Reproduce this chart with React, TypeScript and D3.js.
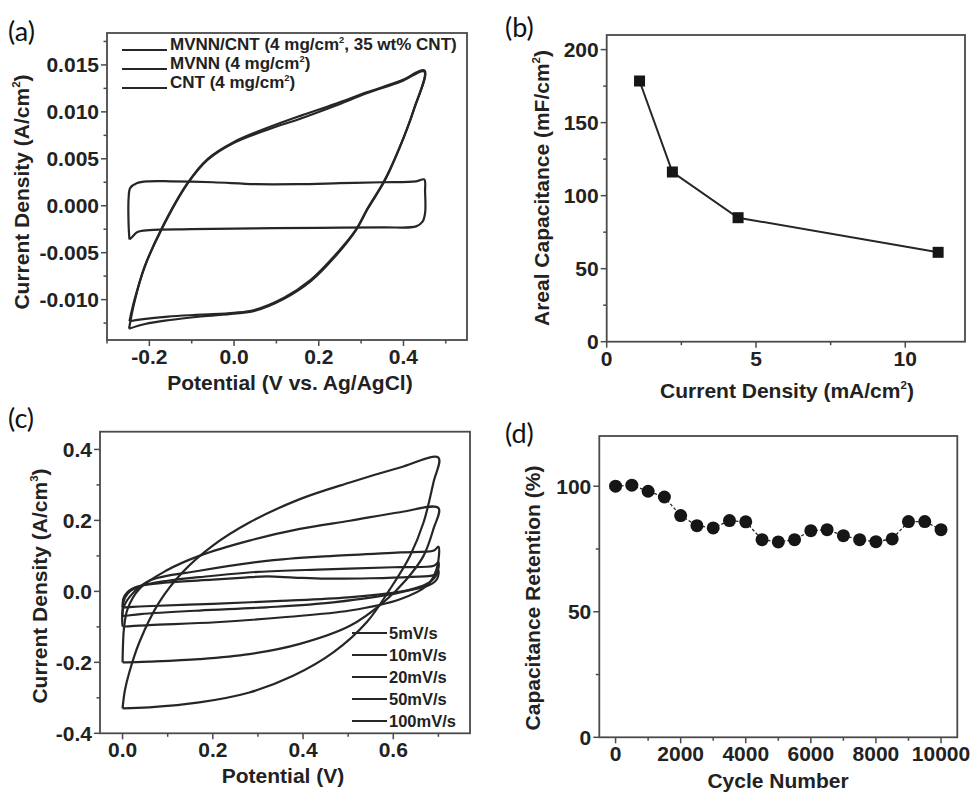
import React from 'react';
import * as d3 from 'd3';

const W = 971, H = 794;
const INK = '#262626', FRAME = '#4a4a4a', TXT = '#222';
const FONT = '"Liberation Sans", Arial, sans-serif';

type Pt = [number, number];

// ---- (a) CV loops, potential (V) vs current density (A/cm2)
const mvnnCntLoop: Pt[] = [
  [-0.247, -0.0123], [-0.235, -0.0100], [-0.211, -0.0065], [-0.172, -0.0026], [-0.109, 0.0024],
  [-0.062, 0.0049], [0.0, 0.0067], [0.079, 0.0081], [0.158, 0.0093], [0.236, 0.0106],
  [0.315, 0.0120], [0.393, 0.0132], [0.449, 0.0143],
  [0.424, 0.0102], [0.389, 0.0060], [0.354, 0.0026], [0.315, -0.0003], [0.287, -0.0026],
  [0.236, -0.0054], [0.181, -0.0079], [0.118, -0.0098], [0.048, -0.0111], [0.0, -0.0114],
  [-0.078, -0.0116], [-0.156, -0.0118], [-0.219, -0.0121], [-0.247, -0.0123],
];
const mvnnLoop: Pt[] = [
  [-0.248, -0.0131], [-0.236, -0.0104], [-0.212, -0.0066], [-0.173, -0.0026], [-0.110, 0.0024],
  [-0.062, 0.0050], [0.0, 0.0068], [0.079, 0.0083], [0.158, 0.0096], [0.236, 0.0108],
  [0.315, 0.0121], [0.393, 0.0133], [0.450, 0.0144],
  [0.425, 0.0103], [0.390, 0.0061], [0.355, 0.0026], [0.316, -0.0003], [0.288, -0.0026],
  [0.237, -0.0055], [0.182, -0.0080], [0.118, -0.0099], [0.048, -0.0112], [0.0, -0.0115],
  [-0.078, -0.0118], [-0.156, -0.0122], [-0.210, -0.0126], [-0.248, -0.0131],
];
const cntLoop: Pt[] = [
  [-0.247, -0.0036], [-0.249, -0.0020], [-0.249, 0.0008], [-0.245, 0.0019], [-0.230, 0.0024],
  [-0.200, 0.0026], [-0.150, 0.0026], [-0.050, 0.0025], [0.050, 0.0023], [0.150, 0.0023],
  [0.250, 0.0024], [0.350, 0.0025], [0.430, 0.0026], [0.449, 0.0028], [0.451, 0.0015],
  [0.451, -0.0008], [0.445, -0.0017], [0.430, -0.0022], [0.350, -0.0023], [0.200, -0.00235],
  [0.050, -0.0024], [-0.100, -0.0025], [-0.200, -0.0026], [-0.228, -0.0028], [-0.240, -0.0033],
  [-0.247, -0.0036],
];
const legendA = ['MVNN/CNT (4 mg/cm², 35 wt% CNT)', 'MVNN (4 mg/cm²)', 'CNT (4 mg/cm²)'];
const aXTicks = [-0.2, 0.0, 0.2, 0.4];
const aXLabels = ['-0.2', '0.0', '0.2', '0.4'];
const aXMinor = [-0.3, -0.1, 0.1, 0.3, 0.5];
const aYTicks = [-0.01, -0.005, 0, 0.005, 0.01, 0.015];
const aYLabels = ['-0.010', '-0.005', '0.000', '0.005', '0.010', '0.015'];
const aYMinor = [-0.0125, -0.0075, -0.0025, 0.0025, 0.0075, 0.0125, 0.0175];

// ---- (b) areal capacitance vs current density
const currentDensity = [1.1, 2.2, 4.4, 11.1];
const arealCapacitance = [178.5, 116.2, 84.9, 61.2];
const bXTicks = [0, 5, 10];
const bXMinor = [2.5, 7.5];
const bYTicks = [0, 50, 100, 150, 200];
const bYMinor = [25, 75, 125, 175];

// ---- (c) CV at several scan rates, A/cm3
const loop5: Pt[] = [
  [0, -0.045], [0.002, -0.02], [0.01, -0.003], [0.035, 0.014], [0.1, 0.025], [0.2, 0.033],
  [0.27, 0.039], [0.32, 0.042], [0.38, 0.039], [0.45, 0.036], [0.55, 0.037], [0.64, 0.041],
  [0.69, 0.046], [0.7, 0.058], [0.697, 0.035], [0.68, 0.018], [0.62, 0.0], [0.5, -0.017],
  [0.35, -0.027], [0.2, -0.035], [0.05, -0.042], [0.005, -0.045], [0, -0.045],
];
const loop10: Pt[] = [
  [0, -0.069], [0.002, -0.03], [0.012, -0.005], [0.04, 0.015], [0.1, 0.03], [0.17, 0.04],
  [0.3, 0.055], [0.45, 0.062], [0.6, 0.068], [0.69, 0.072], [0.7, 0.082], [0.697, 0.05],
  [0.68, 0.025], [0.615, -0.003], [0.467, -0.031], [0.319, -0.045], [0.17, -0.054],
  [0.04, -0.064], [0.004, -0.069], [0, -0.069],
];
const loop20: Pt[] = [
  [0, -0.099], [0.001, -0.05], [0.018, -0.012], [0.059, 0.03], [0.17, 0.058], [0.319, 0.086],
  [0.467, 0.1], [0.615, 0.11], [0.69, 0.115], [0.7, 0.126], [0.696, 0.063], [0.674, 0.016],
  [0.615, -0.022], [0.504, -0.054], [0.356, -0.073], [0.207, -0.087], [0.059, -0.095],
  [0.005, -0.099], [0, -0.099],
];
const loop50: Pt[] = [
  [0, -0.2], [0.001, -0.15], [0.003, -0.106], [0.011, -0.05], [0.037, 0.007], [0.096, 0.058],
  [0.17, 0.1], [0.281, 0.143], [0.393, 0.176], [0.504, 0.199], [0.615, 0.223], [0.7, 0.235],
  [0.689, 0.176], [0.667, 0.1], [0.63, 0.035], [0.578, -0.031], [0.504, -0.097],
  [0.393, -0.148], [0.281, -0.177], [0.17, -0.191], [0.059, -0.198], [0.01, -0.2], [0, -0.2],
];
const loop100: Pt[] = [
  [0, -0.33], [0.005, -0.28], [0.015, -0.228], [0.037, -0.144], [0.081, -0.031], [0.133, 0.054],
  [0.2, 0.129], [0.281, 0.194], [0.393, 0.26], [0.504, 0.307], [0.615, 0.349], [0.7, 0.377],
  [0.689, 0.307], [0.667, 0.194], [0.637, 0.1], [0.593, 0.007], [0.541, -0.087],
  [0.467, -0.172], [0.378, -0.238], [0.281, -0.285], [0.17, -0.313], [0.059, -0.327], [0, -0.33],
];
const scanRates = ['5mV/s', '10mV/s', '20mV/s', '50mV/s', '100mV/s'];
const cXTicks = [0.0, 0.2, 0.4, 0.6];
const cXLabels = ['0.0', '0.2', '0.4', '0.6'];
const cXMinor = [0.1, 0.3, 0.5, 0.7];
const cYTicks = [-0.4, -0.2, 0.0, 0.2, 0.4];
const cYLabels = ['-0.4', '-0.2', '0.0', '0.2', '0.4'];
const cYMinor = [-0.3, -0.1, 0.1, 0.3];

// ---- (d) cycling stability
const cycles = [0, 500, 1000, 1500, 2000, 2500, 3000, 3500, 4000, 4500, 5000,
  5500, 6000, 6500, 7000, 7500, 8000, 8500, 9000, 9500, 10000];
const retention = [100.0, 100.4, 98.0, 95.7, 88.3, 84.3, 83.4, 86.3, 85.8, 78.7, 77.8,
  78.7, 82.3, 82.7, 80.3, 78.7, 77.9, 79.0, 85.9, 85.9, 82.7];
const dXTicks = [0, 2000, 4000, 6000, 8000, 10000];
const dXMinor = [1000, 3000, 5000, 7000, 9000];
const dYTicks = [0, 50, 100];
const dYMinor = [25, 75];

// text with ² / ³ rendered as small superscripts
function SupText({ s, size }: { s: string; size: number }) {
  const parts = s.split(/([²³])/);
  const out: React.ReactNode[] = [];
  let raised = false;
  parts.forEach((p, i) => {
    if (p === '²' || p === '³') {
      out.push(<tspan key={i} dy={-size * 0.42} fontSize={size * 0.55}>{p === '²' ? '2' : '3'}</tspan>);
      raised = true;
    } else if (p) {
      out.push(<tspan key={i} dy={raised ? size * 0.42 : 0}>{p}</tspan>);
      raised = false;
    }
  });
  return <>{out}</>;
}

type AxesProps = {
  xs: d3.ScaleLinear<number, number>; ys: d3.ScaleLinear<number, number>;
  xTicks: number[]; xLabels: string[]; xMinor: number[];
  yTicks: number[]; yLabels: string[]; yMinor: number[];
};

function Axes({ xs, ys, xTicks, xLabels, xMinor, yTicks, yLabels, yMinor }: AxesProps) {
  const [x0, x1] = xs.range();
  const [yb, yt] = ys.range();
  const tick = { stroke: FRAME, strokeWidth: 1.5 };
  return (
    <g>
      <rect x={x0} y={yt} width={x1 - x0} height={yb - yt} fill="none" stroke={FRAME} strokeWidth={1.8} />
      {yTicks.map((t, i) => (
        <g key={'yt' + i}>
          <line x1={x0 - 6} x2={x0} y1={ys(t)} y2={ys(t)} {...tick} />
          <text x={x0 - 8} y={ys(t)} dy="0.36em" textAnchor="end" fontSize={21} fontWeight="bold">{yLabels[i]}</text>
        </g>
      ))}
      {yMinor.map((t, i) => (
        <line key={'ym' + i} x1={x0 - 3.5} x2={x0} y1={ys(t)} y2={ys(t)} {...tick} />
      ))}
      {xTicks.map((t, i) => (
        <g key={'xt' + i}>
          <line x1={xs(t)} x2={xs(t)} y1={yb} y2={yb + 6} {...tick} />
          <text x={xs(t)} y={yb + 24} textAnchor="middle" fontSize={21} fontWeight="bold">{xLabels[i]}</text>
        </g>
      ))}
      {xMinor.map((t, i) => (
        <line key={'xm' + i} x1={xs(t)} x2={xs(t)} y1={yb} y2={yb + 3.5} {...tick} />
      ))}
    </g>
  );
}

function YLabel({ x, y, s }: { x: number; y: number; s: string }) {
  return (
    <text transform={`translate(${x},${y}) rotate(-90)`} dy="0.36em" textAnchor="middle" fontSize={21} fontWeight="bold">
      <SupText s={s} size={21} />
    </text>
  );
}

function XLabel({ x, y, s }: { x: number; y: number; s: string }) {
  return (
    <text x={x} y={y} textAnchor="middle" fontSize={21} fontWeight="bold">
      <SupText s={s} size={21} />
    </text>
  );
}

function PanelTag({ x, y, s }: { x: number; y: number; s: string }) {
  return <text x={x} y={y} fontSize={27} fontFamily="Lato, 'Open Sans', sans-serif" fill="#111">{s}</text>;
}

export default function App() {
  // (a)
  const axA = d3.scaleLinear().domain([-0.3, 0.55]).range([107, 467]);
  const ayA = d3.scaleLinear().domain([-0.0143, 0.0184]).range([340, 33]);
  const lineA = d3.line<Pt>().x(d => axA(d[0])).y(d => ayA(d[1])).curve(d3.curveCatmullRom.alpha(0.5));
  // (b)
  const axB = d3.scaleLinear().domain([0, 12]).range([606.7, 965]);
  const ayB = d3.scaleLinear().domain([0, 210]).range([341.7, 35]);
  const bPts: Pt[] = currentDensity.map((c, i) => [c, arealCapacitance[i]]);
  const lineB = d3.line<Pt>().x(d => axB(d[0])).y(d => ayB(d[1]));
  // (c)
  const axC = d3.scaleLinear().domain([-0.05, 0.77]).range([100, 470]);
  const ayC = d3.scaleLinear().domain([-0.4, 0.45]).range([733.3, 431.7]);
  const lineC = d3.line<Pt>().x(d => axC(d[0])).y(d => ayC(d[1])).curve(d3.curveCatmullRom.alpha(0.5));
  const loopsC = [loop5, loop10, loop20, loop50, loop100];
  // (d)
  const axD = d3.scaleLinear().domain([-500, 10500]).range([599.3, 957.3]);
  const ayD = d3.scaleLinear().domain([0, 120]).range([737.3, 436]);
  const dPts: Pt[] = cycles.map((c, i) => [c, retention[i]]);
  const lineD = d3.line<Pt>().x(d => axD(d[0])).y(d => ayD(d[1]));

  return (
    <svg width={W} height={H} viewBox={`0 0 ${W} ${H}`}
      style={{ position: 'absolute', left: 0, top: 0, background: '#fff' }}
      fontFamily={FONT} fill={TXT}>
      <rect x={0} y={0} width={W} height={H} fill="#fff" />

      {/* (a) */}
      <PanelTag x={8} y={41} s="(a)" />
      {[cntLoop, mvnnLoop, mvnnCntLoop].map((l, i) => (
        <path key={i} d={lineA(l) || ''} fill="none" stroke={INK} strokeWidth={2.2} strokeLinejoin="round" />
      ))}
      <Axes xs={axA} ys={ayA} xTicks={aXTicks} xLabels={aXLabels} xMinor={aXMinor}
        yTicks={aYTicks} yLabels={aYLabels} yMinor={aYMinor} />
      {legendA.map((s, i) => (
        <g key={i}>
          <line x1={122} x2={167} y1={50 + i * 19} y2={50 + i * 19} stroke={INK} strokeWidth={2} />
          <text x={170} y={50 + i * 19} dy="0.36em" fontSize={17} fontWeight="bold"><SupText s={s} size={17} /></text>
        </g>
      ))}
      <YLabel x={29} y={192} s="Current Density (A/cm²)" />
      <XLabel x={290} y={390} s="Potential (V vs. Ag/AgCl)" />

      {/* (b) */}
      <PanelTag x={505} y={37} s="(b)" />
      <path d={lineB(bPts) || ''} fill="none" stroke={INK} strokeWidth={2} />
      {bPts.map((d, i) => (
        <rect key={i} x={axB(d[0]) - 5.5} y={ayB(d[1]) - 5.5} width={11} height={11} fill="#161616" />
      ))}
      <Axes xs={axB} ys={ayB} xTicks={bXTicks} xLabels={bXTicks.map(String)} xMinor={bXMinor}
        yTicks={bYTicks} yLabels={bYTicks.map(String)} yMinor={bYMinor} />
      <YLabel x={549} y={188} s="Areal Capacitance (mF/cm²)" />
      <XLabel x={787} y={398} s="Current Density (mA/cm²)" />

      {/* (c) */}
      <PanelTag x={8} y={428} s="(c)" />
      {loopsC.map((l, i) => (
        <path key={i} d={lineC(l) || ''} fill="none" stroke={INK} strokeWidth={2.2} strokeLinejoin="round" />
      ))}
      <Axes xs={axC} ys={ayC} xTicks={cXTicks} xLabels={cXLabels} xMinor={cXMinor}
        yTicks={cYTicks} yLabels={cYLabels} yMinor={cYMinor} />
      {scanRates.map((s, i) => (
        <g key={i}>
          <line x1={352} x2={387} y1={633 + i * 22} y2={633 + i * 22} stroke={INK} strokeWidth={2} />
          <text x={389} y={633 + i * 22} dy="0.36em" fontSize={16.5} fontWeight="bold">{s}</text>
        </g>
      ))}
      <YLabel x={47} y={586} s="Current Density (A/cm³)" />
      <XLabel x={283} y={783} s="Potential (V)" />

      {/* (d) */}
      <PanelTag x={505} y={443} s="(d)" />
      <path d={lineD(dPts) || ''} fill="none" stroke={INK} strokeWidth={1.3} strokeDasharray="3 2" />
      {dPts.map((d, i) => (
        <circle key={i} cx={axD(d[0])} cy={ayD(d[1])} r={6.5} fill="#161616" />
      ))}
      <Axes xs={axD} ys={ayD} xTicks={dXTicks} xLabels={dXTicks.map(String)} xMinor={dXMinor}
        yTicks={dYTicks} yLabels={dYTicks.map(String)} yMinor={dYMinor} />
      <YLabel x={540} y={598} s="Capacitance Retention (%)" />
      <XLabel x={778} y={788} s="Cycle Number" />
    </svg>
  );
}
